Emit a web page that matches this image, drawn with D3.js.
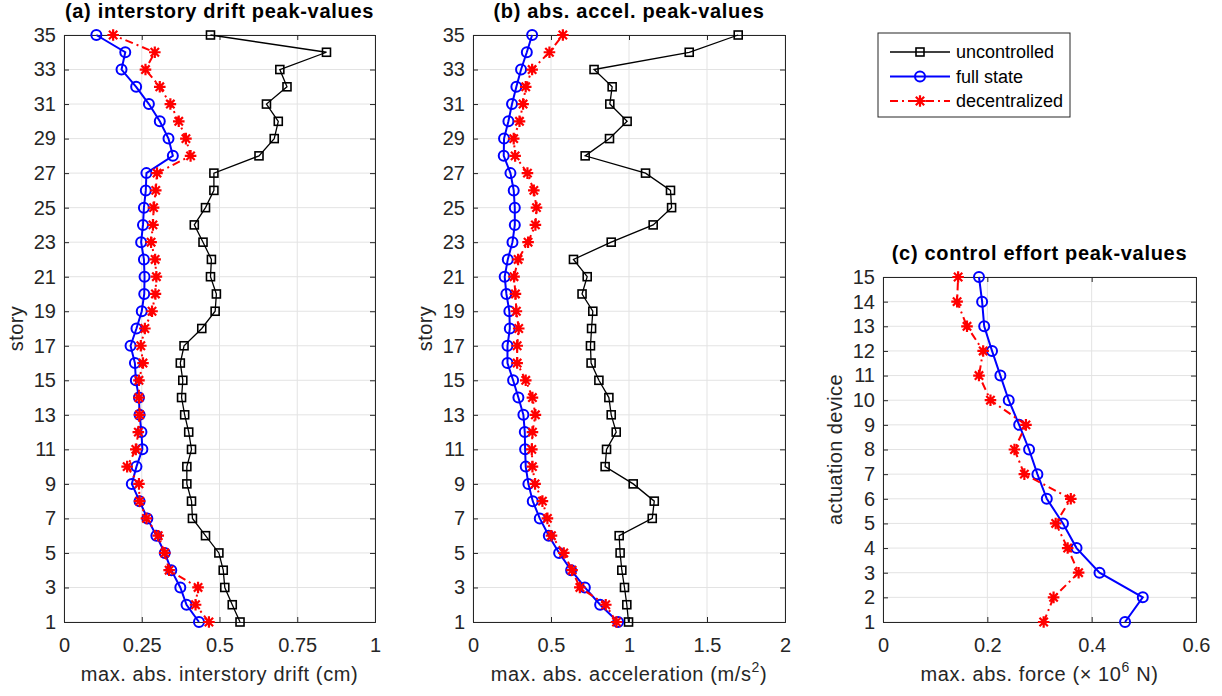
<!DOCTYPE html>
<html>
<head>
<meta charset="utf-8">
<script src="https://cdn.jsdelivr.net/npm/d3@7"></script>
<style>
  body { margin: 0; background: #fff; }
  svg { font-family: "Liberation Sans", Arial, Helvetica, sans-serif; }
</style>
</head>
<body>
<svg id="chart" width="1222" height="696"></svg>
<script>
"use strict";

// stories 1..35 (bottom to top)
const stories = d3.range(1, 36);
const devices = d3.range(1, 16);

// (a) interstory drift peak-values (cm), index 0 = story 1
const driftUncontrolled = [0.566, 0.541, 0.517, 0.512, 0.498, 0.455, 0.413, 0.410, 0.395, 0.395,
  0.410, 0.401, 0.388, 0.378, 0.382, 0.374, 0.386, 0.443, 0.486, 0.490,
  0.471, 0.474, 0.447, 0.419, 0.455, 0.482, 0.482, 0.627, 0.676, 0.689,
  0.651, 0.717, 0.694, 0.844, 0.471];
const driftFull = [0.434, 0.394, 0.374, 0.345, 0.324, 0.297, 0.268, 0.243, 0.218, 0.233,
  0.252, 0.249, 0.243, 0.241, 0.231, 0.228, 0.214, 0.233, 0.250, 0.258,
  0.259, 0.257, 0.248, 0.254, 0.257, 0.263, 0.265, 0.350, 0.336, 0.308,
  0.273, 0.232, 0.185, 0.197, 0.104];
const driftDecentral = [0.466, 0.423, 0.431, 0.338, 0.324, 0.303, 0.265, 0.243, 0.241, 0.203,
  0.231, 0.239, 0.243, 0.241, 0.241, 0.254, 0.247, 0.260, 0.283, 0.294,
  0.297, 0.293, 0.280, 0.286, 0.288, 0.295, 0.299, 0.407, 0.392, 0.369,
  0.342, 0.308, 0.262, 0.292, 0.158];

// (b) abs. accel. peak-values (m/s^2)
const accUncontrolled = [0.997, 0.986, 0.971, 0.954, 0.943, 0.937, 1.149, 1.162, 1.027, 0.847,
  0.856, 0.918, 0.886, 0.871, 0.807, 0.757, 0.753, 0.760, 0.768, 0.699,
  0.732, 0.644, 0.886, 1.155, 1.273, 1.266, 1.106, 0.719, 0.875, 0.988,
  0.877, 0.892, 0.776, 1.386, 1.700];
const accFull = [0.930, 0.815, 0.717, 0.629, 0.552, 0.486, 0.428, 0.383, 0.355, 0.338,
  0.334, 0.332, 0.323, 0.291, 0.257, 0.221, 0.221, 0.236, 0.233, 0.214,
  0.203, 0.223, 0.253, 0.268, 0.268, 0.261, 0.240, 0.197, 0.199, 0.227,
  0.250, 0.278, 0.308, 0.345, 0.379];
const accDecentral = [0.920, 0.851, 0.685, 0.635, 0.582, 0.503, 0.477, 0.445, 0.398, 0.381,
  0.377, 0.381, 0.400, 0.381, 0.338, 0.283, 0.283, 0.293, 0.278, 0.272,
  0.263, 0.289, 0.353, 0.400, 0.407, 0.390, 0.349, 0.270, 0.261, 0.298,
  0.321, 0.338, 0.379, 0.490, 0.576];

// (c) control effort peak-values (x 10^6 N), index 0 = device 1
const forceFull = [0.464, 0.498, 0.415, 0.371, 0.345, 0.314, 0.296, 0.280, 0.261, 0.241,
  0.225, 0.209, 0.194, 0.190, 0.184];
const forceDecentral = [0.308, 0.327, 0.375, 0.354, 0.331, 0.360, 0.271, 0.252, 0.274, 0.206,
  0.184, 0.192, 0.161, 0.142, 0.144];

const seriesNames = ["uncontrolled", "full state", "decentralized"];
const oddStories = d3.range(1, 36, 2);

const svg = d3.select("#chart");
const axisColor = "#262626";
const gridColor = "#e3e3e3";

const styles = {
  "uncontrolled": { color: "#000000", width: 1.3, dash: null, marker: "square" },
  "full state": { color: "#0000ff", width: 2, dash: null, marker: "circle" },
  "decentralized": { color: "#ff0000", width: 2, dash: "8,4,2,4", marker: "star" }
};

function starPath(r) {
  const d = r * 0.72;
  return `M${-r},0L${r},0M0,${-r}L0,${r}M${-d},${-d}L${d},${d}M${-d},${d}L${d},${-d}`;
}

function drawMarker(g, type, color) {
  if (type === "square") {
    g.append("rect").attr("x", -4).attr("y", -4).attr("width", 8).attr("height", 8)
      .attr("fill", "none").attr("stroke", color).attr("stroke-width", 1.6);
  } else if (type === "circle") {
    g.append("circle").attr("r", 5).attr("fill", "none")
      .attr("stroke", color).attr("stroke-width", 2);
  } else {
    g.append("path").attr("d", starPath(5.8)).attr("fill", "none")
      .attr("stroke", color).attr("stroke-width", 2.2);
  }
}

function panel(opt) {
  const x = d3.scaleLinear().domain(opt.xDomain).range([opt.left, opt.right]);
  const y = d3.scaleLinear().domain(opt.yDomain).range([opt.bottom, opt.top]);
  const g = svg.append("g");

  // grid
  g.append("g").selectAll("line").data(opt.xTicks).join("line")
    .attr("x1", d => x(d)).attr("x2", d => x(d))
    .attr("y1", opt.top).attr("y2", opt.bottom)
    .attr("stroke", gridColor).attr("stroke-width", 1);
  g.append("g").selectAll("line").data(opt.yTicks).join("line")
    .attr("x1", opt.left).attr("x2", opt.right)
    .attr("y1", d => y(d)).attr("y2", d => y(d))
    .attr("stroke", gridColor).attr("stroke-width", 1);

  // axes (ticks inward, box)
  const fmtX = d => d3.format("")(d);
  const xb = g.append("g").attr("transform", `translate(0,${opt.bottom})`)
    .call(d3.axisBottom(x).tickValues(opt.xTicks).tickSize(-5).tickPadding(15.5).tickFormat(fmtX));
  const xt = g.append("g").attr("transform", `translate(0,${opt.top})`)
    .call(d3.axisTop(x).tickValues(opt.xTicks).tickSize(-5).tickFormat(""));
  const yl = g.append("g").attr("transform", `translate(${opt.left},0)`)
    .call(d3.axisLeft(y).tickValues(opt.yTicks).tickSize(-5).tickPadding(8));
  const yr = g.append("g").attr("transform", `translate(${opt.right},0)`)
    .call(d3.axisRight(y).tickValues(opt.yTicks).tickSize(-5).tickFormat(""));
  [xb, xt, yl, yr].forEach(a => {
    a.select(".domain").attr("stroke", axisColor).attr("stroke-width", 1);
    a.selectAll(".tick line").attr("stroke", axisColor);
    a.selectAll(".tick text").attr("font-size", 20).attr("fill", axisColor);
  });
  xb.selectAll(".tick text").attr("dy", "0.71em");

  // series
  opt.series.forEach(s => {
    const st = styles[s.name];
    const pts = s.values.map((v, i) => [v, opt.levels[i]]);
    const line = d3.line().x(d => x(d[0])).y(d => y(d[1]));
    g.append("path").datum(pts).attr("d", line)
      .attr("fill", "none").attr("stroke", st.color).attr("stroke-width", st.width)
      .attr("stroke-dasharray", st.dash);
    const mk = g.append("g").selectAll("g").data(pts).join("g")
      .attr("transform", d => `translate(${x(d[0])},${y(d[1])})`);
    mk.each(function () { drawMarker(d3.select(this), st.marker, st.color); });
  });

  // title
  svg.append("text").attr("x", (opt.left + opt.right) / 2).attr("y", opt.top - 17)
    .attr("text-anchor", "middle").attr("font-size", 20).attr("font-weight", "bold")
    .attr("letter-spacing", 0.7).attr("fill", "#000").text(opt.title);

  // x label
  const xl = svg.append("text").attr("x", (opt.left + opt.right) / 2).attr("y", 681)
    .attr("text-anchor", "middle").attr("font-size", 20).attr("letter-spacing", 0.6)
    .attr("fill", axisColor);
  opt.xLabel(xl);

  // y label
  svg.append("text")
    .attr("transform", `translate(${opt.left - 41},${(opt.top + opt.bottom) / 2}) rotate(-90)`)
    .attr("text-anchor", "middle").attr("font-size", 20).attr("letter-spacing", 0.4)
    .attr("fill", axisColor).text(opt.yLabel);
}

panel({
  left: 64, right: 375, top: 35, bottom: 622,
  xDomain: [0, 1], yDomain: [1, 35],
  xTicks: [0, 0.25, 0.5, 0.75, 1], yTicks: oddStories,
  levels: stories,
  title: "(a) interstory drift peak-values",
  xLabel: t => t.text("max. abs. interstory drift (cm)"),
  yLabel: "story",
  series: [
    { name: "uncontrolled", values: driftUncontrolled },
    { name: "full state", values: driftFull },
    { name: "decentralized", values: driftDecentral }
  ]
});

panel({
  left: 473, right: 785, top: 35, bottom: 622,
  xDomain: [0, 2], yDomain: [1, 35],
  xTicks: [0, 0.5, 1, 1.5, 2], yTicks: oddStories,
  levels: stories,
  title: "(b) abs. accel. peak-values",
  xLabel: t => {
    t.append("tspan").text("max. abs. acceleration (m/s");
    t.append("tspan").attr("dy", -9).attr("font-size", 14).text("2");
    t.append("tspan").attr("dy", 9).text(")");
  },
  yLabel: "story",
  series: [
    { name: "uncontrolled", values: accUncontrolled },
    { name: "full state", values: accFull },
    { name: "decentralized", values: accDecentral }
  ]
});

panel({
  left: 883, right: 1196, top: 277, bottom: 622,
  xDomain: [0, 0.6], yDomain: [1, 15],
  xTicks: [0, 0.2, 0.4, 0.6], yTicks: devices,
  levels: devices,
  title: "(c) control effort peak-values",
  xLabel: t => {
    t.append("tspan").text("max. abs. force (\u00d7 10");
    t.append("tspan").attr("dy", -9).attr("font-size", 14).text("6");
    t.append("tspan").attr("dy", 9).text(" N)");
  },
  yLabel: "actuation device",
  series: [
    { name: "full state", values: forceFull },
    { name: "decentralized", values: forceDecentral }
  ]
});

// legend
const lg = svg.append("g").attr("transform", "translate(878,33)");
lg.append("rect").attr("width", 192).attr("height", 84)
  .attr("fill", "#fff").attr("stroke", axisColor).attr("stroke-width", 1);
seriesNames.forEach((n, i) => {
  const st = styles[n];
  const yy = 19 + i * 24.5;
  lg.append("line").attr("x1", 12).attr("x2", 72).attr("y1", yy).attr("y2", yy)
    .attr("stroke", st.color).attr("stroke-width", st.width)
    .attr("stroke-dasharray", st.dash);
  const m = lg.append("g").attr("transform", `translate(42,${yy})`);
  drawMarker(m, st.marker, st.color);
  lg.append("text").attr("x", 78).attr("y", yy).attr("dy", "0.35em")
    .attr("font-size", 18).attr("fill", "#000").text(n);
});
</script>
</body>
</html>
